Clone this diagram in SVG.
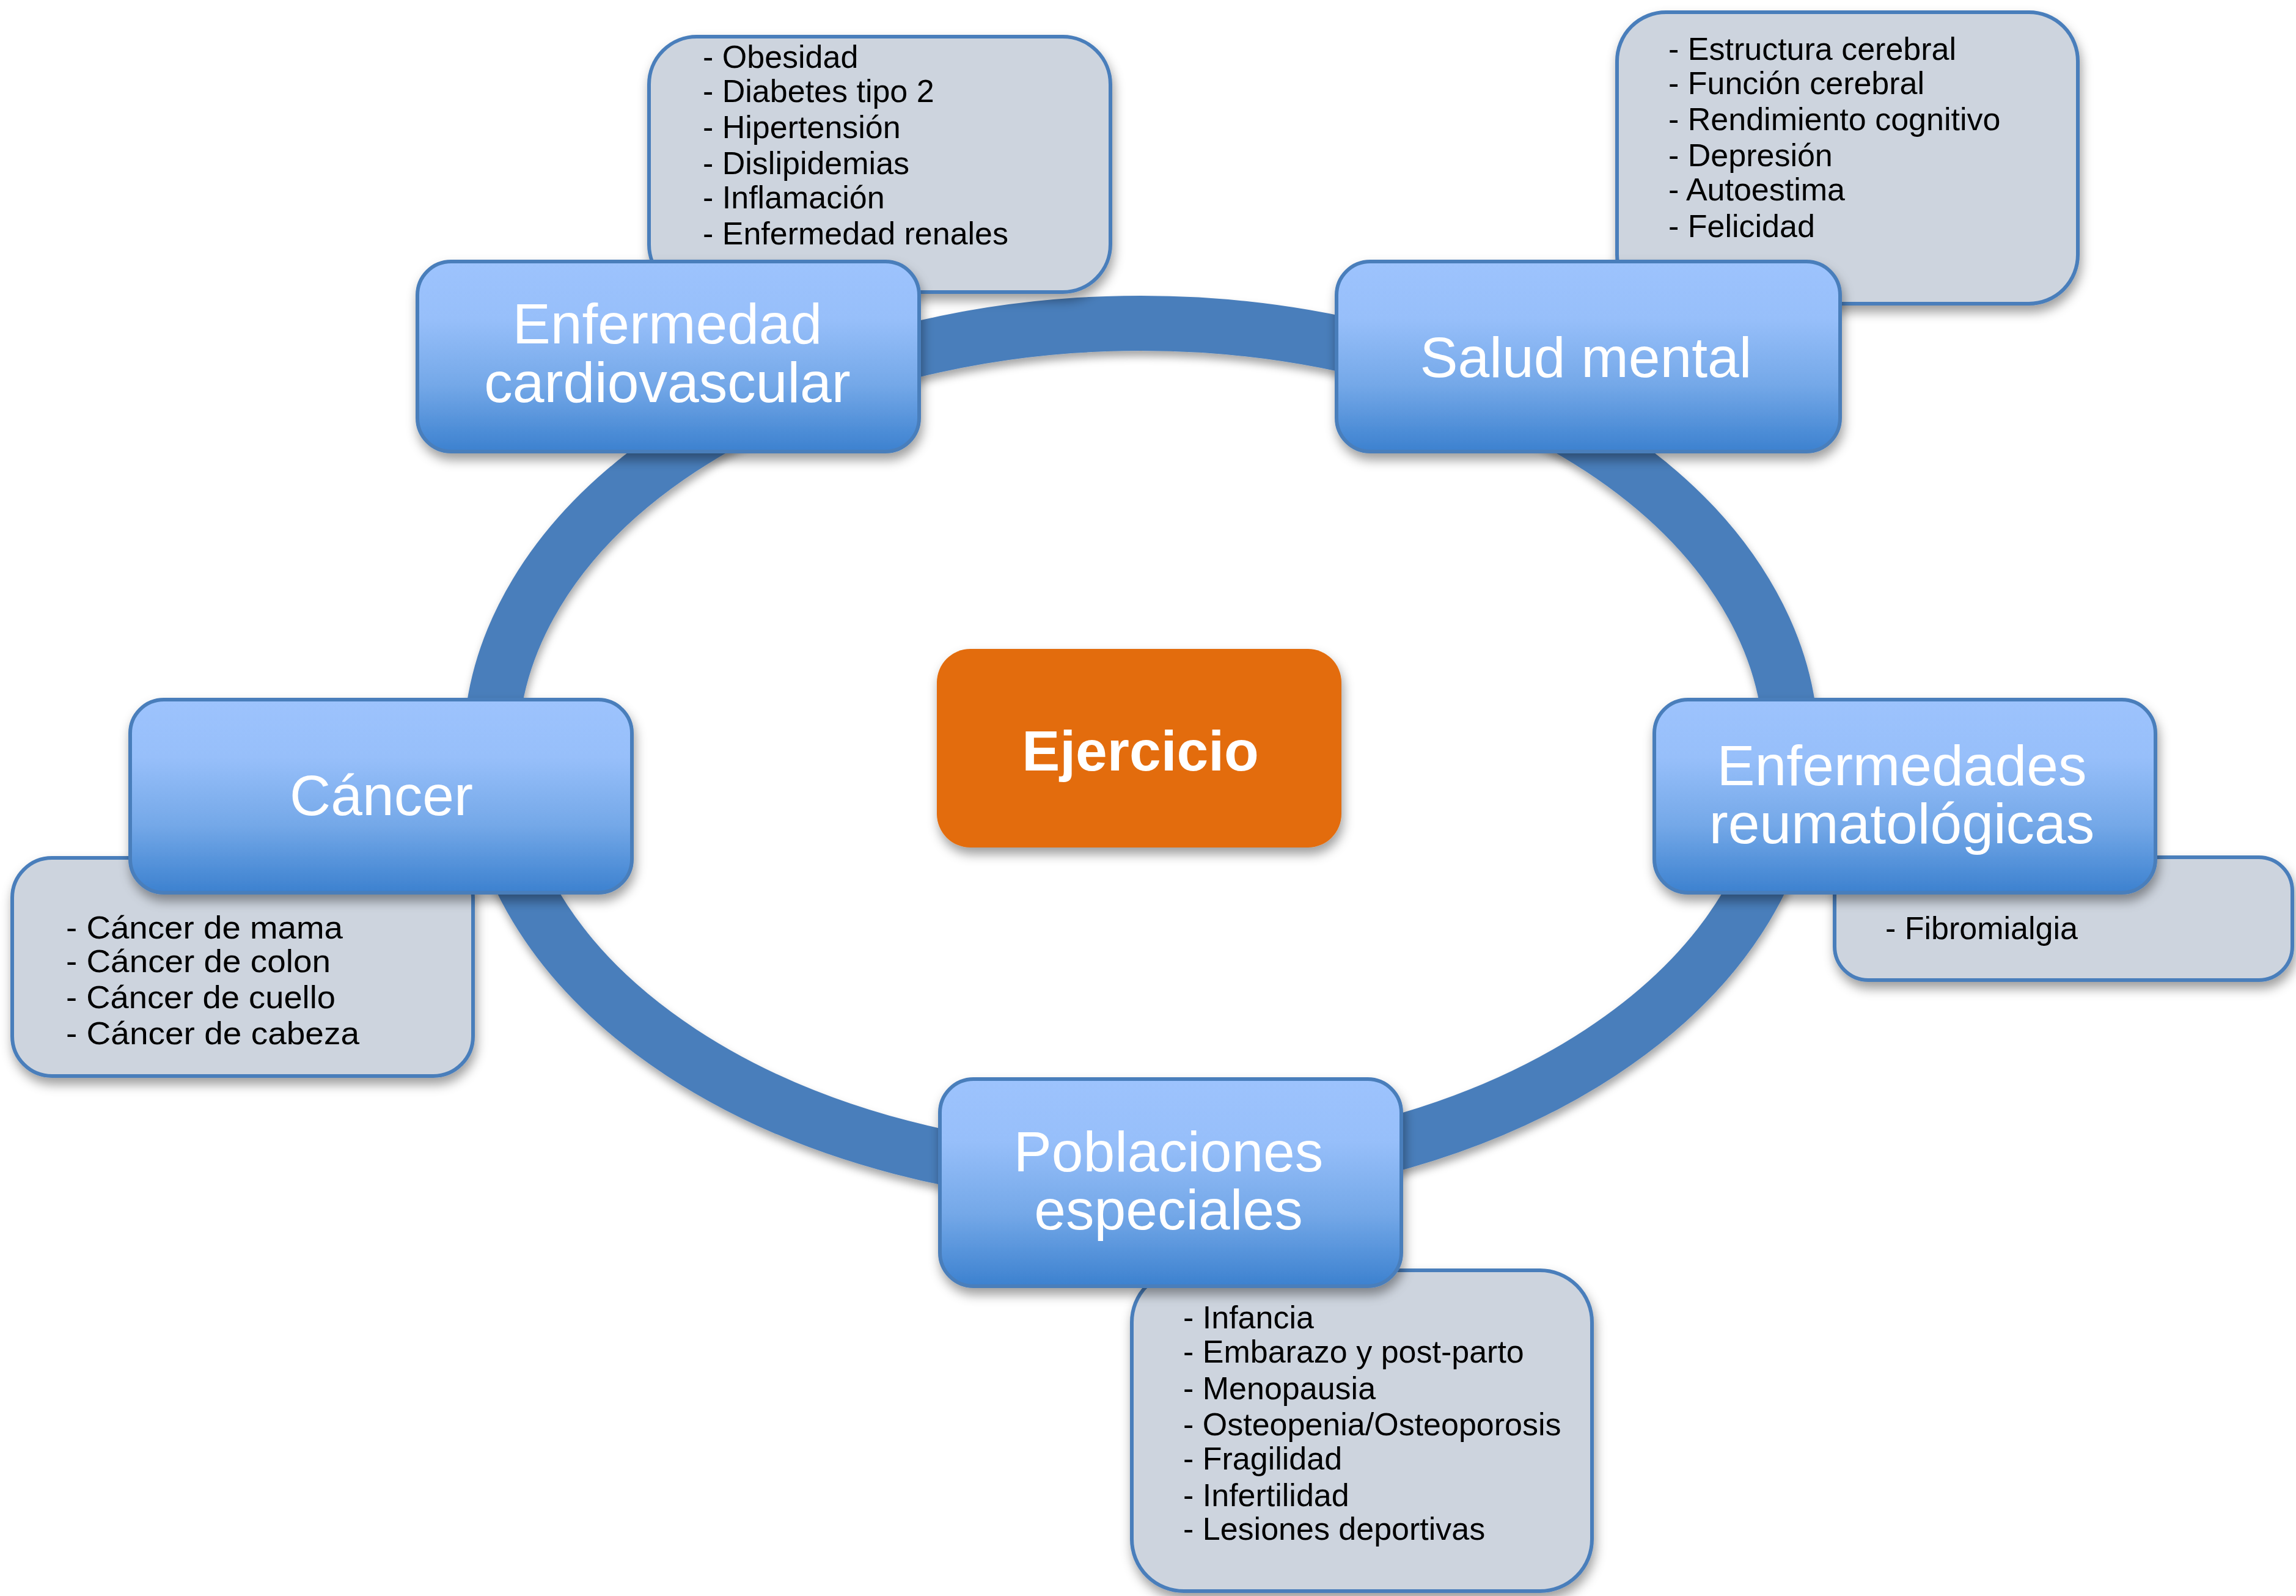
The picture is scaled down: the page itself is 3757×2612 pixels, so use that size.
<svg xmlns="http://www.w3.org/2000/svg" width="3757" height="2612" viewBox="0 0 3757 2612">
<defs>
  <linearGradient id="blueGrad" x1="0" y1="0" x2="0" y2="1">
    <stop offset="0" stop-color="#9DC3FD"/>
    <stop offset="0.3" stop-color="#97BFFA"/>
    <stop offset="0.65" stop-color="#74A8E8"/>
    <stop offset="1" stop-color="#3C81CF"/>
  </linearGradient>
  <filter id="shadow" x="-10%" y="-10%" width="125%" height="135%">
    <feDropShadow dx="3" dy="11" stdDeviation="9" flood-color="#000" flood-opacity="0.38"/>
  </filter>
  <filter id="ringShadow" x="-5%" y="-5%" width="110%" height="115%">
    <feDropShadow dx="2" dy="9" stdDeviation="7" flood-color="#000" flood-opacity="0.35"/>
  </filter>
</defs>
<style>
  .box { fill: url(#blueGrad); stroke: #4A7EBB; stroke-width: 6; filter: url(#shadow); }
  .list { fill: #CDD4DE; stroke: #4A7EBB; stroke-width: 6; filter: url(#shadow); }
  .title { font-family: "Liberation Sans", Arial, sans-serif; font-size: 93px; fill: #FFFFFF; text-anchor: middle; }
  .item { font-family: "Liberation Sans", Arial, sans-serif; font-size: 52px; fill: #000000; }
  .center { fill: #E36C0A; filter: url(#shadow); }
  .ctext { font-family: "Liberation Sans", Arial, sans-serif; font-size: 93px; font-weight: bold; fill: #FFFFFF; text-anchor: middle; }
</style>
<rect x="0" y="0" width="3757" height="2612" fill="#FFFFFF"/>

<g id="connectors">
  <ellipse cx="1867" cy="1228" rx="1064" ry="699" fill="none" stroke="#4A7EBB" stroke-width="90" filter="url(#ringShadow)"/>
</g>

<g id="list-cardiovascular">
  <rect class="list" x="1062" y="60" width="755" height="418" rx="78" ry="78"/>
  <text class="item" x="1150" y="111">- Obesidad</text>
  <text class="item" x="1150" y="167">- Diabetes tipo 2</text>
  <text class="item" x="1150" y="226">- Hipertensión</text>
  <text class="item" x="1150" y="285">- Dislipidemias</text>
  <text class="item" x="1150" y="341">- Inflamación</text>
  <text class="item" x="1150" y="400">- Enfermedad renales</text>
</g>

<g id="list-salud-mental">
  <rect class="list" x="2646" y="20" width="754" height="477" rx="80" ry="80"/>
  <text class="item" x="2730" y="98">- Estructura cerebral</text>
  <text class="item" x="2730" y="154">- Función cerebral</text>
  <text class="item" x="2730" y="213">- Rendimiento cognitivo</text>
  <text class="item" x="2730" y="272">- Depresión</text>
  <text class="item" x="2730" y="328">- Autoestima</text>
  <text class="item" x="2730" y="388">- Felicidad</text>
</g>

<g id="list-cancer">
  <rect class="list" x="20" y="1404" width="754" height="357" rx="65" ry="65"/>
  <text class="item" x="108" y="1536" textLength="453" lengthAdjust="spacingAndGlyphs">- Cáncer de mama</text>
  <text class="item" x="108" y="1591" textLength="433" lengthAdjust="spacingAndGlyphs">- Cáncer de colon</text>
  <text class="item" x="108" y="1650" textLength="441" lengthAdjust="spacingAndGlyphs">- Cáncer de cuello</text>
  <text class="item" x="108" y="1709" textLength="480" lengthAdjust="spacingAndGlyphs">- Cáncer de cabeza</text>
</g>

<g id="list-reumatologicas">
  <rect class="list" x="3002" y="1403" width="749" height="201" rx="55" ry="55"/>
  <text class="item" x="3085" y="1537">- Fibromialgia</text>
</g>

<g id="list-poblaciones">
  <rect class="list" x="1852" y="2079" width="753" height="525" rx="85" ry="85"/>
  <text class="item" x="1936" y="2174">- Infancia</text>
  <text class="item" x="1936" y="2230">- Embarazo y post-parto</text>
  <text class="item" x="1936" y="2290">- Menopausia</text>
  <text class="item" x="1936" y="2349">- Osteopenia/Osteoporosis</text>
  <text class="item" x="1936" y="2405">- Fragilidad</text>
  <text class="item" x="1936" y="2465">- Infertilidad</text>
  <text class="item" x="1936" y="2520">- Lesiones deportivas</text>
</g>

<g id="node-cardiovascular">
  <rect class="box" x="683" y="428" width="821" height="311" rx="55" ry="55"/>
  <text class="title" x="1092" y="562">Enfermedad</text>
  <text class="title" x="1092" y="658">cardiovascular</text>
</g>

<g id="node-salud-mental">
  <rect class="box" x="2187" y="428" width="824" height="311" rx="55" ry="55"/>
  <text class="title" x="2595" y="617">Salud mental</text>
</g>

<g id="node-cancer">
  <rect class="box" x="213" y="1145" width="821" height="316" rx="55" ry="55"/>
  <text class="title" x="624" y="1334">Cáncer</text>
</g>

<g id="node-reumatologicas">
  <rect class="box" x="2707" y="1145" width="820" height="316" rx="55" ry="55"/>
  <text class="title" x="3112" y="1285">Enfermedades</text>
  <text class="title" x="3112" y="1380">reumatológicas</text>
</g>

<g id="node-poblaciones">
  <rect class="box" x="1538" y="1766" width="755" height="339" rx="55" ry="55"/>
  <text class="title" x="1912" y="1917">Poblaciones</text>
  <text class="title" x="1912" y="2012">especiales</text>
</g>

<g id="node-ejercicio">
  <rect class="center" x="1533" y="1062" width="662" height="325" rx="55" ry="55"/>
  <text class="ctext" x="1866" y="1261">Ejercicio</text>
</g>
</svg>
